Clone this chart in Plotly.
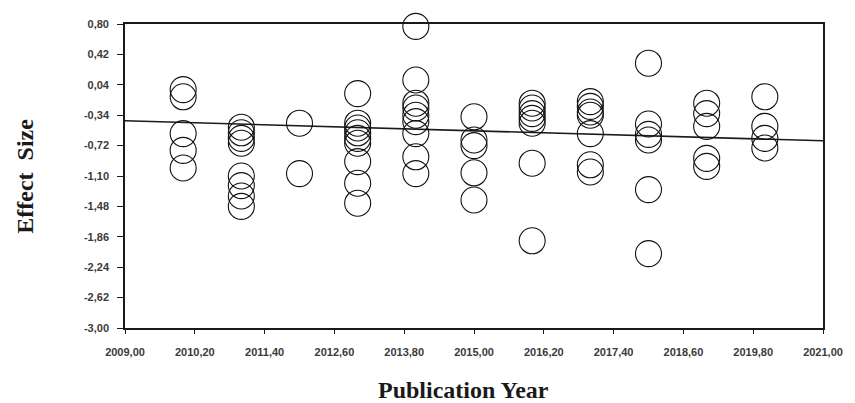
import plotly.graph_objects as go

# Effect sizes per publication year (one entry per study)
effects_by_year = {
    2010: [-0.02, -0.11, -0.57, -0.78, -1.00],
    2011: [-0.49, -0.56, -0.63, -0.69, -1.10, -1.22, -1.35, -1.48],
    2012: [-0.44, -1.07],
    2013: [-0.07, -0.44, -0.50, -0.56, -0.63, -0.69, -0.92, -1.19, -1.44],
    2014: [0.77, 0.10, -0.19, -0.25, -0.34, -0.42, -0.57, -0.86, -1.07],
    2015: [-0.36, -0.65, -0.72, -1.06, -1.40],
    2016: [-0.19, -0.25, -0.32, -0.38, -0.44, -0.94, -1.91],
    2017: [-0.17, -0.23, -0.30, -0.34, -0.57, -0.96, -1.05],
    2018: [0.31, -0.45, -0.58, -0.65, -1.27, -2.07],
    2019: [-0.19, -0.32, -0.48, -0.88, -0.98],
    2020: [-0.11, -0.48, -0.63, -0.75],
}
years = [y for y, vals in effects_by_year.items() for _ in vals]
effects = [v for vals in effects_by_year.values() for v in vals]

# Meta-regression line
fit_years = [2009.0, 2021.0]
fit_effects = [-0.41, -0.66]

x_ticks = [2009.0, 2010.2, 2011.4, 2012.6, 2013.8, 2015.0, 2016.2, 2017.4, 2018.6, 2019.8, 2021.0]
y_ticks = [0.80, 0.42, 0.04, -0.34, -0.72, -1.10, -1.48, -1.86, -2.24, -2.62, -3.00]


def comma(v):
    return f"{v:.2f}".replace(".", ",")


fig = go.Figure()
fig.add_trace(go.Scatter(
    x=fit_years, y=fit_effects, mode="lines",
    line=dict(color="#1a1a1a", width=1.6),
    hoverinfo="skip", showlegend=False,
))
fig.add_trace(go.Scatter(
    x=years, y=effects, mode="markers",
    marker=dict(symbol="circle-open", size=26, color="#111111",
                line=dict(width=1.1, color="#111111")),
    cliponaxis=False, showlegend=False,
))

tick_font = dict(family="Liberation Sans, Arial", size=11, color="#3a3a3a", weight="bold")
fig.update_xaxes(
    range=[2009, 2021], tickvals=x_ticks, ticktext=[comma(v) for v in x_ticks],
    showline=True, linecolor="#1a1a1a", linewidth=1.6, mirror=True,
    ticks="outside", ticklen=4, tickcolor="#1a1a1a", ticklabelstandoff=9,
    showgrid=False, zeroline=False, tickfont=tick_font,
)
fig.update_yaxes(
    range=[-3.0, 0.80], tickvals=y_ticks, ticktext=[comma(v) for v in y_ticks],
    showline=True, linecolor="#1a1a1a", linewidth=1.6, mirror=True,
    ticks="outside", ticklen=6, tickcolor="#1a1a1a", ticklabelstandoff=6,
    showgrid=False, zeroline=False, tickfont=tick_font,
)

title_font = dict(family="Liberation Serif, Times New Roman", size=24, color="#1a1a1a", weight="bold")
fig.add_annotation(text="Publication Year", xref="paper", yref="paper",
                   x=(466 - 125) / 703, y=(328 - 390) / 304,
                   xanchor="center", yanchor="middle", showarrow=False, font=title_font)
fig.add_annotation(text="Effect  Size", xref="paper", yref="paper",
                   x=(24 - 125) / 703, y=(328 - 176) / 304, textangle=-90,
                   xanchor="center", yanchor="middle", showarrow=False, font=title_font)

fig.update_layout(
    width=855, height=403,
    margin=dict(l=125, r=27, t=24, b=75),
    paper_bgcolor="white", plot_bgcolor="white",
)

fig.write_html("out.html")
